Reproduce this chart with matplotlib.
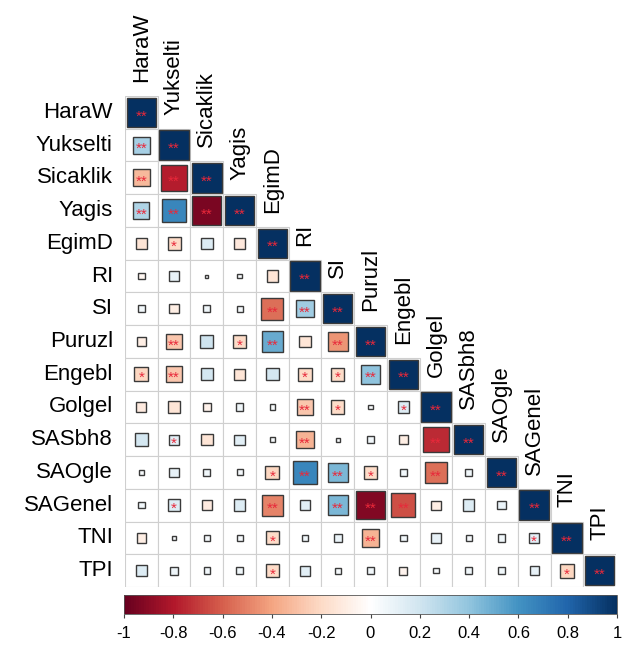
import numpy as np
import matplotlib
matplotlib.use("Agg")
import matplotlib.pyplot as plt
from matplotlib.colors import LinearSegmentedColormap, Normalize
from matplotlib.patches import Rectangle
import matplotlib.colorbar as mcolorbar

plt.rcParams['font.family'] = ['Liberation Sans', 'DejaVu Sans']

variables = ["HaraW", "Yukselti", "Sicaklik", "Yagis", "EgimD", "RI", "SI",
             "Puruzl", "Engebl", "Golgel", "SASbh8", "SAOgle", "SAGenel",
             "TNI", "TPI"]

# lower triangle of the correlation matrix, row by row (diagonal last)
corr_rows = [
    [1.0],
    [0.33, 1.0],
    [-0.33, -0.78, 1.0],
    [0.30, 0.65, -0.95, 1.0],
    [-0.15, -0.20, 0.15, -0.13, 1.0],
    [-0.05, 0.10, 0.01, 0.02, -0.15, 1.0],
    [0.05, -0.10, 0.06, 0.04, -0.55, 0.35, 1.0],
    [-0.10, -0.28, 0.20, -0.20, 0.50, -0.15, -0.45, 1.0],
    [-0.22, -0.28, 0.18, -0.15, 0.18, -0.20, -0.20, 0.40, 1.0],
    [-0.12, -0.15, -0.08, 0.06, 0.03, -0.28, -0.20, 0.02, 0.15, 1.0],
    [0.18, 0.12, -0.15, 0.12, 0.03, -0.35, 0.02, 0.05, -0.10, -0.75, 1.0],
    [0.03, 0.10, 0.06, 0.04, -0.22, 0.65, 0.45, -0.20, 0.05, -0.55, 0.06, 1.0],
    [0.05, 0.15, -0.12, 0.15, -0.50, 0.12, 0.45, -0.92, -0.65, -0.10, 0.15, 0.08, 1.0],
    [-0.10, 0.02, 0.04, 0.04, -0.20, 0.05, 0.08, -0.35, 0.05, 0.10, 0.04, 0.06, 0.12, 1.0],
    [0.15, 0.07, 0.05, 0.06, -0.20, 0.12, 0.04, 0.05, -0.07, 0.03, 0.06, 0.06, 0.10, -0.22, 1.0],
]

# significance marks (** p<0.01, * p<0.05)
sig_rows = [
    ["**"],
    ["**", "**"],
    ["**", "**", "**"],
    ["**", "**", "**", "**"],
    ["", "*", "", "", "**"],
    ["", "", "", "", "", "**"],
    ["", "", "", "", "**", "**", "**"],
    ["", "**", "", "*", "**", "", "**", "**"],
    ["*", "**", "", "", "", "*", "*", "**", "**"],
    ["", "", "", "", "", "**", "*", "", "*", "**"],
    ["", "*", "", "", "", "**", "", "", "", "**", "**"],
    ["", "", "", "", "*", "**", "**", "*", "", "**", "", "**"],
    ["", "*", "", "", "**", "", "**", "**", "**", "", "", "", "**"],
    ["", "", "", "", "*", "", "", "**", "", "", "", "", "*", "**"],
    ["", "", "", "", "*", "", "", "", "", "", "", "", "", "*", "**"],
]

tick_values = [-1, -0.8, -0.6, -0.4, -0.2, 0, 0.2, 0.4, 0.6, 0.8, 1]
tick_labels = ["-1", "-0.8", "-0.6", "-0.4", "-0.2", "0",
               "0.2", "0.4", "0.6", "0.8", "1"]

rdbu = ["#67001F", "#B2182B", "#D6604D", "#F4A582", "#FDDBC7", "#FFFFFF",
        "#D1E5F0", "#92C5DE", "#4393C3", "#2166AC", "#053061"]
cmap = LinearSegmentedColormap.from_list("corr_rdbu", rdbu, N=200)
norm = Normalize(vmin=-1, vmax=1)

n = len(variables)
fig = plt.figure(figsize=(6.30, 6.53), dpi=100)
ax = fig.add_axes([125 / 630, 1 - 587 / 653, 491 / 630, 491 / 653])
ax.set_xlim(0, n)
ax.set_ylim(n, 0)
ax.axis("off")

for i in range(n):
    for j in range(i + 1):
        r = corr_rows[i][j]
        ax.add_patch(Rectangle((j, i), 1, 1, facecolor="white",
                               edgecolor="#cfcfcf", lw=0.8))
        side = 0.9 * np.sqrt(abs(r))
        ax.add_patch(Rectangle((j + 0.5 - side / 2, i + 0.5 - side / 2),
                               side, side, facecolor=cmap(norm(r)),
                               edgecolor="#3a3a3a", lw=1.0))
        if sig_rows[i][j]:
            ax.text(j + 0.5, i + 0.62, sig_rows[i][j], ha="center",
                    va="center", color="#e8283a", fontsize=11)

for k, name in enumerate(variables):
    ax.text(-0.37, k + 0.5, name, ha="right", va="center", fontsize=16,
            clip_on=False)
    ax.text(k + 0.5, k - 0.43, name, ha="center", va="bottom", rotation=90,
            fontsize=16, clip_on=False)

cax = fig.add_axes([124 / 630, 1 - 614 / 653, 493 / 630, 19 / 653])
cb = mcolorbar.ColorbarBase(cax, cmap=cmap, norm=norm, orientation="horizontal")
cb.set_ticks(tick_values)
cb.set_ticklabels(tick_labels)
cax.tick_params(labelsize=12, length=3, width=0.8, color="#444444", pad=6)
cb.outline.set_linewidth(0.6)
cb.outline.set_edgecolor("#555555")

fig.savefig("out.png", dpi=100)
